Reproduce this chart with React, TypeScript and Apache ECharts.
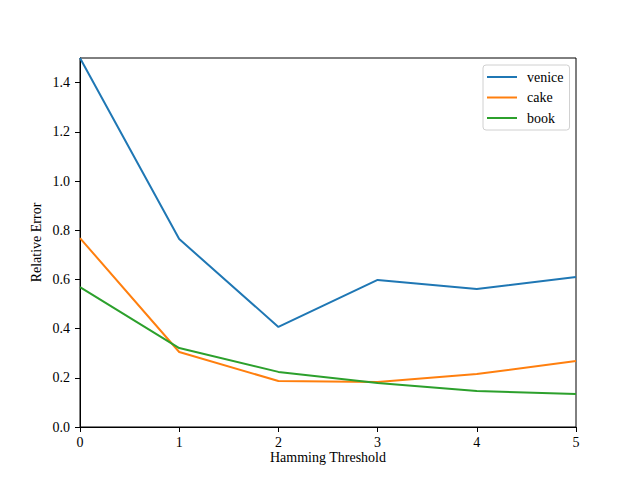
import React, { useEffect, useRef } from "react";
import * as echarts from "echarts";

const thresholds = [0, 1, 2, 3, 4, 5];
const venice = [1.5, 0.764, 0.407, 0.598, 0.561, 0.61];
const cake = [0.768, 0.305, 0.187, 0.183, 0.215, 0.268];
const book = [0.569, 0.321, 0.224, 0.179, 0.146, 0.134];
const yTicks = [0, 0.2, 0.4, 0.6, 0.8, 1.0, 1.2, 1.4];

const FONT = "Liberation Serif";

export default function App() {
  const ref = useRef<HTMLDivElement>(null);
  useEffect(() => {
    const chart = echarts.init(ref.current!, null, { renderer: "svg" });
    const mk = (name: string, vals: number[], color: string) => ({
      name,
      type: "line",
      data: thresholds.map((t, i) => [t, vals[i]]),
      showSymbol: false,
      symbol: "none",
      lineStyle: { color, width: 2 },
      itemStyle: { color },
      clip: true,
    });
    const labelStyle = { fontFamily: FONT, fontSize: 14, color: "#000" };
    chart.setOption({
      animation: false,
      backgroundColor: "#ffffff",
      textStyle: { fontFamily: FONT },
      grid: {
        left: 80,
        right: 64,
        top: 58,
        bottom: 53,
        show: true,
        borderColor: "#000",
        borderWidth: 1,
        backgroundColor: "transparent",
      },
      legend: {
        orient: "vertical",
        left: 483,
        top: 65,
        padding: [5, 6, 5, 4],
        itemGap: 6.5,
        itemWidth: 30,
        itemHeight: 2,
        icon: "rect",
        borderColor: "#d0d0d0",
        borderWidth: 1,
        borderRadius: 3,
        backgroundColor: "#fff",
        textStyle: { ...labelStyle, padding: [0, 0, 0, 5] },
        data: ["venice", "cake", "book"],
      },
      xAxis: {
        type: "value",
        min: 0,
        max: 5,
        interval: 1,
        name: "Hamming Threshold",
        nameLocation: "middle",
        nameGap: 23,
        nameMoveOverlap: false,
        nameTextStyle: labelStyle,
        splitLine: { show: false },
        axisLine: { show: true, onZero: false, lineStyle: { color: "#000", width: 1 } },
        axisTick: { show: true, length: 5, lineStyle: { color: "#000" } },
        axisLabel: {
          ...labelStyle,
          margin: 8,
          formatter: (v: number) => String(v),
        },
      },
      yAxis: {
        type: "value",
        min: 0,
        max: 1.5,
        interval: 0.2,
        name: "Relative Error",
        nameLocation: "middle",
        nameGap: 37,
        nameMoveOverlap: false,
        nameRotate: 90,
        nameTextStyle: labelStyle,
        splitLine: { show: false },
        axisLine: { show: true, lineStyle: { color: "#000", width: 1 } },
        axisTick: { show: true, length: 5, lineStyle: { color: "#000" }, customValues: yTicks },
        axisLabel: {
          ...labelStyle,
          margin: 10,
          showMaxLabel: false,
          formatter: (v: number) => (v > 1.45 ? "" : v.toFixed(1)),
        },
      },
      series: [
        mk("venice", venice, "#1f77b4"),
        mk("cake", cake, "#ff7f0e"),
        mk("book", book, "#2ca02c"),
      ],
    });
    return () => chart.dispose();
  }, []);
  return (
    <div
      ref={ref}
      style={{ position: "fixed", left: 0, top: 0, width: 640, height: 480, background: "#fff" }}
    />
  );
}
